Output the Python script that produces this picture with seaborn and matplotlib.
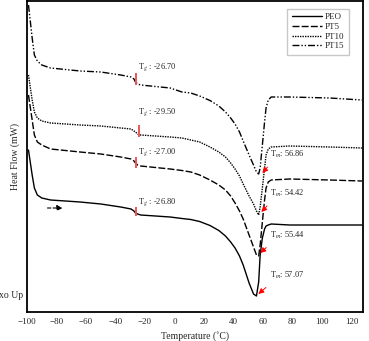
import numpy as np
import pandas as pd
import matplotlib
matplotlib.use("Agg")
import matplotlib.pyplot as plt
import seaborn as sns

# temperature grid (deg C) shared by all DSC traces
temperature = [-99, -98, -96.5, -95, -93, -90, -84, -64, -50, -36.5, -29.5, -27.5,
               -26.5, -25, -23, -3, 5, 11, 17, 24, 30, 34.5, 38, 41, 44, 46.5, 50.5,
               53.5, 55.5, 57, 58, 59.5, 61, 62, 63.5, 65.5, 78, 105, 127]

# heat flow (arbitrary offset units, exo up)
hf_peo = [16.2, 15.2, 13.7, 12.4, 11.7, 11.4, 11.2, 11.0, 10.8, 10.5, 10.3, 10.1,
          9.9, 9.8, 9.7, 9.5, 9.35, 9.25, 9.05, 8.65, 8.15, 7.6, 7.0, 6.4, 5.6, 4.7, 2.9,
          1.8, 1.6, 3.0, 5.7, 7.4, 8.3, 8.6, 8.7, 8.8, 8.7, 8.7, 8.7]
hf_pt5 = [21.7, 20.7, 19.2, 17.7, 17.0, 16.7, 16.3, 16.0, 15.8, 15.5, 15.3, 15.1,
          14.9, 14.7, 14.6, 14.3, 14.15, 14.0, 13.7, 13.2, 12.7, 12.2, 11.6, 10.9, 10.1,
          9.3, 7.7, 6.5, 5.7, 5.6, 6.7, 9.0, 11.2, 12.4, 13.0, 13.2, 13.3, 13.2, 13.1]
hf_pt10 = [23.7, 22.7, 21.2, 20.0, 19.4, 19.1, 18.9, 18.7, 18.6, 18.4, 18.3, 18.1,
           18.0, 17.8, 17.7, 17.5, 17.4, 17.2, 17.0, 16.5, 16.0, 15.5, 14.9, 14.3, 13.6,
           12.8, 11.6, 10.8, 10.1, 9.7, 10.5, 12.4, 14.4, 15.7, 16.3, 16.5, 16.6, 16.5, 16.4]
hf_pt15 = [30.7, 29.4, 27.4, 25.7, 25.1, 24.7, 24.4, 24.1, 24.0, 23.7, 23.5, 23.3,
           23.0, 22.8, 22.7, 22.4, 22.0, 21.9, 21.6, 21.15, 20.6, 20.0, 19.4, 18.8, 18.0,
           17.1, 15.7, 14.7, 14.0, 13.8, 14.4, 16.7, 19.0, 20.4, 21.2, 21.5, 21.5, 21.4, 21.2]

series = ["PEO", "PT5", "PT10", "PT15"]
tg_values = ["-26.80", "-27.00", "-29.50", "-26.70"]
tm_values = ["57.07", "55.44", "54.42", "56.86"]

# Tg marks and label anchors
tg_mark_x = [-26.4, -26.4, -24.4, -26.4]
tg_mark_lo = [9.6, 14.4, 17.5, 22.7]
tg_mark_hi = [10.5, 15.5, 18.7, 23.9]
tg_text_y = [11.0, 16.0, 20.0, 24.5]
# Tm arrow tips and label anchors
tm_tip_x = [56.8, 58.1, 58.8, 59.5]
tm_tip_y = [1.8, 5.9, 10.0, 13.9]
tm_text_y = [3.7, 7.7, 11.9, 15.8]

df = pd.DataFrame({"Temperature": temperature * 4,
                   "HeatFlow": hf_peo + hf_pt5 + hf_pt10 + hf_pt15,
                   "Sample": np.repeat(series, len(temperature))})

sns.set_theme(style="white")
plt.rcParams["font.family"] = ["Liberation Serif", "DejaVu Serif"]
plt.rcParams["mathtext.fontset"] = "stix"

fig = plt.figure(figsize=(3.69, 3.41), dpi=100)
ax = fig.add_axes([27 / 369, 29 / 341, 336 / 369, 311 / 341])

dashes = {"PEO": "", "PT5": (5, 1.6), "PT10": (1, 0.8), "PT15": (5, 1.4, 1, 1.4, 1, 1.4)}
sns.lineplot(data=df, x="Temperature", y="HeatFlow", style="Sample", dashes=dashes,
             color="black", linewidth=1.0, estimator=None, sort=False, ax=ax, legend=False)

for i, name in enumerate(series):
    ax.vlines(tg_mark_x[i], tg_mark_lo[i], tg_mark_hi[i], color="#e8585a", linewidth=1.4)
    ax.text(-25, tg_text_y[i], "T$_g$ : " + tg_values[i], fontsize=6, va="center")
    ax.annotate("T$_m$: " + tm_values[i], xy=(tm_tip_x[i], tm_tip_y[i]),
                xytext=(65, tm_text_y[i]), fontsize=6, va="center",
                arrowprops=dict(arrowstyle="-|>", color="red", lw=0.7,
                                mutation_scale=8, shrinkA=4, shrinkB=0,
                                relpos=(0.1, 0.0)))

# heating direction arrow
ax.annotate("", xy=(-74, 10.4), xytext=(-88, 10.4),
            arrowprops=dict(arrowstyle="-|>", color="black", lw=0.8, ls=(0, (3, 2)),
                            mutation_scale=8))

handles = [plt.Line2D([], [], color="black", lw=1.0, dashes=dashes[s] if dashes[s] else (None, None),
                      label=s) for s in series]
ax.legend(handles=handles, loc="upper right", bbox_to_anchor=(0.972, 0.99),
          fontsize=6.5, frameon=True, fancybox=False, edgecolor="#bbbbbb",
          handlelength=3.4, handletextpad=0.3, labelspacing=0.15, borderpad=0.5)

ax.set_xlim(-100, 127.7)
ax.set_ylim(0, 31.1)
ax.set_xticks(list(range(-100, 121, 20)))
ax.set_yticks([])
ax.tick_params(axis="x", length=0, labelsize=6.5, pad=4)
ax.set_xlabel("Temperature (˚C)", fontsize=7, labelpad=4)
ax.set_ylabel("Heat Flow (mW)", fontsize=7, labelpad=5)
ax.text(-0.012, 0.052, "Exo Up", transform=ax.transAxes, fontsize=7,
        ha="right", va="center")
for sp in ax.spines.values():
    sp.set_color("black")
    sp.set_linewidth(1.3)

fig.savefig("out.png", dpi=100)
